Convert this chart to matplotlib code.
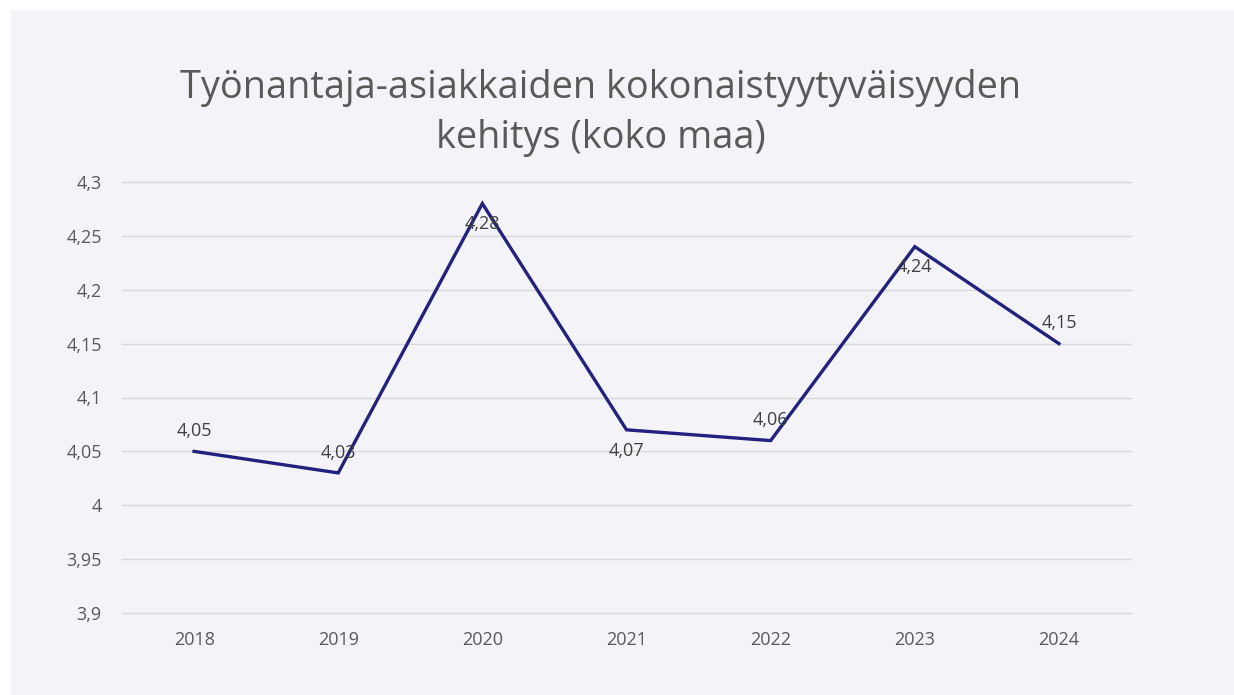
import matplotlib.pyplot as plt
from matplotlib.patches import Rectangle

years = ['2018', '2019', '2020', '2021', '2022', '2023', '2024']
values = [4.05, 4.03, 4.28, 4.07, 4.06, 4.24, 4.15]
value_labels = ['4,05', '4,03', '4,28', '4,07', '4,06', '4,24', '4,15']
y_ticks = [3.9, 3.95, 4.0, 4.05, 4.1, 4.15, 4.2, 4.25, 4.3]
y_tick_labels = ['3,9', '3,95', '4', '4,05', '4,1', '4,15', '4,2', '4,25', '4,3']
title = 'Työnantaja-asiakkaiden kokonaistyytyväisyyden\nkehitys (koko maa)'

# where Excel put the data labels
label_side = ['above', 'above', 'below', 'below', 'above', 'below', 'above']

plt.rcParams['font.family'] = ['Open Sans', 'DejaVu Sans']

bg = '#F3F3F8'
fig = plt.figure(figsize=(12.34, 6.95), dpi=100)
fig.patch.set_facecolor('white')
# light panel behind the chart
fig.patches.append(Rectangle((11 / 1234, 0), 1 - 11 / 1234, 1 - 10 / 695,
                             transform=fig.transFigure, facecolor=bg,
                             edgecolor='none', zorder=-1))

ax = fig.add_axes([122 / 1234, 1 - 613 / 695, 1009 / 1234, 431 / 695])
ax.patch.set_alpha(0)

x = list(range(len(years)))
ax.plot(x, values, color='#22227E', lw=2.4, solid_joinstyle='miter', zorder=3)

for i, v in enumerate(values):
    dy = 14.5 if label_side[i] == 'above' else -15
    ax.annotate(value_labels[i], (x[i], v), xytext=(0, dy), textcoords='offset points',
                ha='center', va='center', fontsize=13, color='#404040', zorder=4)

ax.set_xlim(-0.5, len(years) - 0.5)
ax.set_ylim(3.9, 4.3)
ax.set_yticks(y_ticks)
ax.set_yticklabels(y_tick_labels)
ax.set_xticks(x)
ax.set_xticklabels(years)
ax.tick_params(axis='both', length=0, labelsize=13, labelcolor='#595959')
ax.tick_params(axis='y', pad=14.5)
ax.tick_params(axis='x', pad=13)
ax.grid(axis='y', color='#D9D9D9', lw=1)
for gl in ax.get_ygridlines():
    gl.set_clip_on(False)
ax.set_axisbelow(True)
for s in ax.spines.values():
    s.set_visible(False)

fig.text(601 / 1234, 1 - 113 / 695, title, ha='center', va='center',
         fontsize=27.3, color='#595959', linespacing=1.4)

fig.savefig('out.png', dpi=100, facecolor=fig.get_facecolor())
